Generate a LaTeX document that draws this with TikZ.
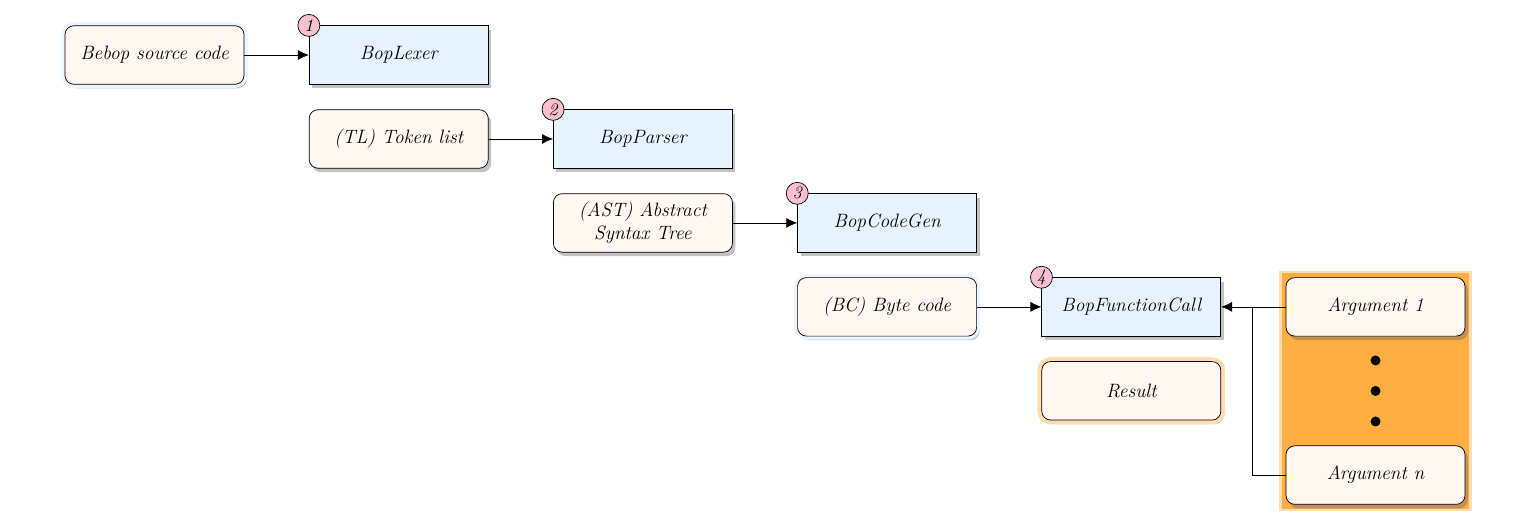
\documentclass[tikz,border=0pt]{standalone}
\usetikzlibrary{arrows.meta,backgrounds,calc,fit,positioning,shadows}
\definecolor{Cream}{HTML}{FFF7F0}
\definecolor{ProcBlue}{HTML}{E6F2FF}
\definecolor{BlueGlow}{HTML}{EEF5FF}
\definecolor{Pink}{HTML}{F9C1CE}
\definecolor{Orange}{HTML}{FFAE42}
\definecolor{OrangeGlow}{HTML}{FFDDB0}
\tikzset{shade/.style={drop shadow={shadow xshift=.06cm,shadow yshift=-.08cm,opacity=.4,fill=black!60}},
proc/.style={draw=black,fill=ProcBlue,minimum width=3.58cm,minimum height=1.17cm,align=center,shade},
inbox/.style={rounded corners=5pt,draw=black,fill=Cream,minimum width=3.58cm,minimum height=1.17cm,align=center,shade},
blueglow/.style={preaction={draw=BlueGlow,line width=4pt}},
orangeglow/.style={preaction={draw=OrangeGlow,line width=5pt}},
badge/.style={circle,draw=black,fill=Pink,minimum size=.44cm,inner sep=0pt,font=\itshape},
flow/.style={-{Latex[length=2.2mm,width=2mm]},thin}}

\begin{document}
\begin{tikzpicture}[node distance=.495cm and 1.29cm,font=\fontsize{11}{13}\selectfont\itshape]
      \useasboundingbox (0,0) rectangle (30.56,-10.56);
      \node[inbox,blueglow](src) at (3.09,-1.1){Bebop source code};
      \node[proc,right=of src](lexer){BopLexer};
      \node[inbox,below=of lexer](tl){(TL) Token list};
      \node[proc,right=of tl](parser){BopParser};
      \node[inbox,below=of parser](ast){(AST) Abstract\\Syntax Tree};
      \node[proc,right=of ast](gen){BopCodeGen};
      \node[inbox,blueglow,below=of gen](bc){(BC) Byte code};
      \node[proc,right=of bc](call){BopFunctionCall};
      \node[inbox,orangeglow,below=of call](result){Result};
      \node[inbox,right=of call](arg1){Argument 1};
      \node[inbox,below=2.18cm of arg1](argn){Argument n};
      % orange group behind the arguments
      \begin{scope}[on background layer]
        \node[fit=(arg1)(argn),inner sep=.08cm,fill=Orange,preaction={draw=OrangeGlow,line width=3pt}](args){};
      \end{scope}
      \foreach \t in {.22,.5,.78}
        \fill ($(arg1.south)!\t!(argn.north)$) circle (.1cm);
      % badges
      \node[badge] at (lexer.north west){1};
      \node[badge] at (parser.north west){2};
      \node[badge] at (gen.north west){3};
      \node[badge] at (call.north west){4};
      \draw[flow](src)--(lexer);
      \draw[flow](tl)--(parser);
      \draw[flow](ast)--(gen);
      \draw[flow](bc)--(call);
      \draw[flow](arg1)--(call);
      \coordinate (join) at ($(call.east)!.49!(arg1.west)$);
      \draw[thin](argn.west)-|(join);
    \end{tikzpicture}
\end{document}
